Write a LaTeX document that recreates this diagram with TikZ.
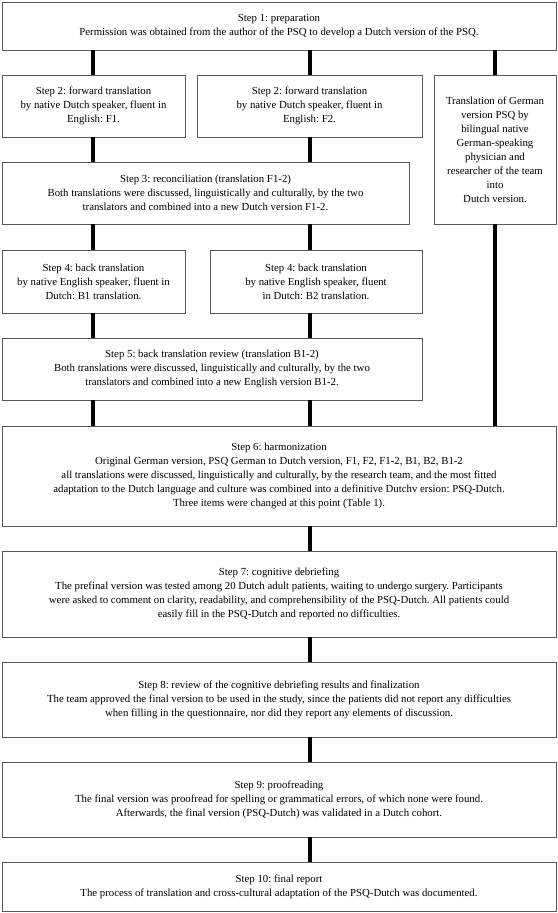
\documentclass[tikz,border=0pt]{standalone}
\usepackage{fontspec}
\setmainfont{Liberation Serif}
\frenchspacing
\tikzset{
  stepbox/.style={draw=black!65, line width=0.8pt, align=center, inner sep=0pt,
    font=\fontsize{10.8}{14}\selectfont},
  link/.style={line width=4pt}
}

\begin{document}
\begin{tikzpicture}[x=1pt,y=-1pt]
\newcommand{\fullw}{554pt}
\newcommand{\colw}{183pt}
\newcommand{\rowh}{62pt}

\useasboundingbox (0,0) rectangle (557,913);

\coordinate (colL) at (93,0);
\coordinate (colM) at (310,0);
\coordinate (colR) at (495,0);

\node [stepbox, minimum width=\fullw, minimum height=48pt] (s1) at (279,26)
  {Step 1: preparation\\Permission was obtained from the author of the PSQ to develop a Dutch version of the PSQ.};
\node [stepbox, minimum width=\colw, minimum height=\rowh] (s2a) at (93.5,106)
  {Step 2: forward translation\\by native Dutch speaker, fluent in\\English: F1.};
\node [stepbox, minimum width=225pt, minimum height=\rowh] (s2b) at (309.5,106)
  {Step 2: forward translation\\by native Dutch speaker, fluent in\\English: F2.};
\node [stepbox, minimum width=122pt, minimum height=149pt] (ger) at (495,149.5)
  {Translation of German\\version PSQ by\\bilingual native\\German-speaking\\physician and\\researcher of the team\\into\\Dutch version.};
\node [stepbox, minimum width=407pt, minimum height=\rowh] (s3) at (205.5,193)
  {Step 3: reconciliation (translation F1-2)\\Both translations were discussed, linguistically and culturally, by the two\\translators and combined into a new Dutch version F1-2.};
\node [stepbox, minimum width=\colw, minimum height=63pt] (s4a) at (93.5,281.5)
  {Step 4: back translation\\by native English speaker, fluent in\\Dutch: B1 translation.};
\node [stepbox, minimum width=212pt, minimum height=63pt] (s4b) at (316,281.5)
  {Step 4: back translation\\by native English speaker, fluent\\in Dutch: B2 translation.};
\node [stepbox, minimum width=420pt, minimum height=\rowh] (s5) at (212,369)
  {Step 5: back translation review (translation B1-2)\\Both translations were discussed, linguistically and culturally, by the two\\translators and combined into a new English version B1-2.};
\node [stepbox, minimum width=\fullw, minimum height=100pt] (s6) at (279,476)
  {Step 6: harmonization\\Original German version, PSQ German to Dutch version, F1, F2, F1-2, B1, B2, B1-2\\all translations were discussed, linguistically and culturally, by the research team, and the most fitted\\adaptation to the Dutch language and culture was combined into a definitive Dutchv ersion: PSQ-Dutch.\\Three items were changed at this point (Table 1).};
\node [stepbox, minimum width=\fullw, minimum height=86pt] (s7) at (279,594)
  {Step 7: cognitive debriefing\\The prefinal version was tested among 20 Dutch adult patients, waiting to undergo surgery. Participants\\were asked to comment on clarity, readability, and comprehensibility of the PSQ-Dutch. All patients could\\easily fill in the PSQ-Dutch and reported no difficulties.};
\node [stepbox, minimum width=\fullw, minimum height=75pt] (s8) at (279,699.5)
  {Step 8: review of the cognitive debriefing results and finalization\\The team approved the final version to be used in the study, since the patients did not report any difficulties\\when filling in the questionnaire, nor did they report any elements of discussion.};
\node [stepbox, minimum width=\fullw, minimum height=75pt] (s9) at (279,799.5)
  {Step 9: proofreading\\The final version was proofread for spelling or grammatical errors, of which none were found.\\Afterwards, the final version (PSQ-Dutch) was validated in a Dutch cohort.};
\node [stepbox, minimum width=\fullw, minimum height=49pt] (s10) at (279,886.5)
  {Step 10: final report\\The process of translation and cross-cultural adaptation of the PSQ-Dutch was documented.};

\draw [link] (s1.south -| colL) -- (s2a.north -| colL);
\draw [link] (s1.south -| colM) -- (s2b.north -| colM);
\draw [link] (s1.south -| colR) -- (ger.north -| colR);
\draw [link] (s2a.south -| colL) -- (s3.north -| colL);
\draw [link] (s2b.south -| colM) -- (s3.north -| colM);
\draw [link] (s3.south -| colL) -- (s4a.north -| colL);
\draw [link] (s3.south -| colM) -- (s4b.north -| colM);
\draw [link] (s4a.south -| colL) -- (s5.north -| colL);
\draw [link] (s4b.south -| colM) -- (s5.north -| colM);
\draw [link] (s5.south -| colL) -- (s6.north -| colL);
\draw [link] (s5.south -| colM) -- (s6.north -| colM);
\draw [link] (ger.south -| colR) -- (s6.north -| colR);
\draw [link] (s6.south -| colM) -- (s7.north -| colM);
\draw [link] (s7.south -| colM) -- (s8.north -| colM);
\draw [link] (s8.south -| colM) -- (s9.north -| colM);
\draw [link] (s9.south -| colM) -- (s10.north -| colM);
\end{tikzpicture}
\end{document}
